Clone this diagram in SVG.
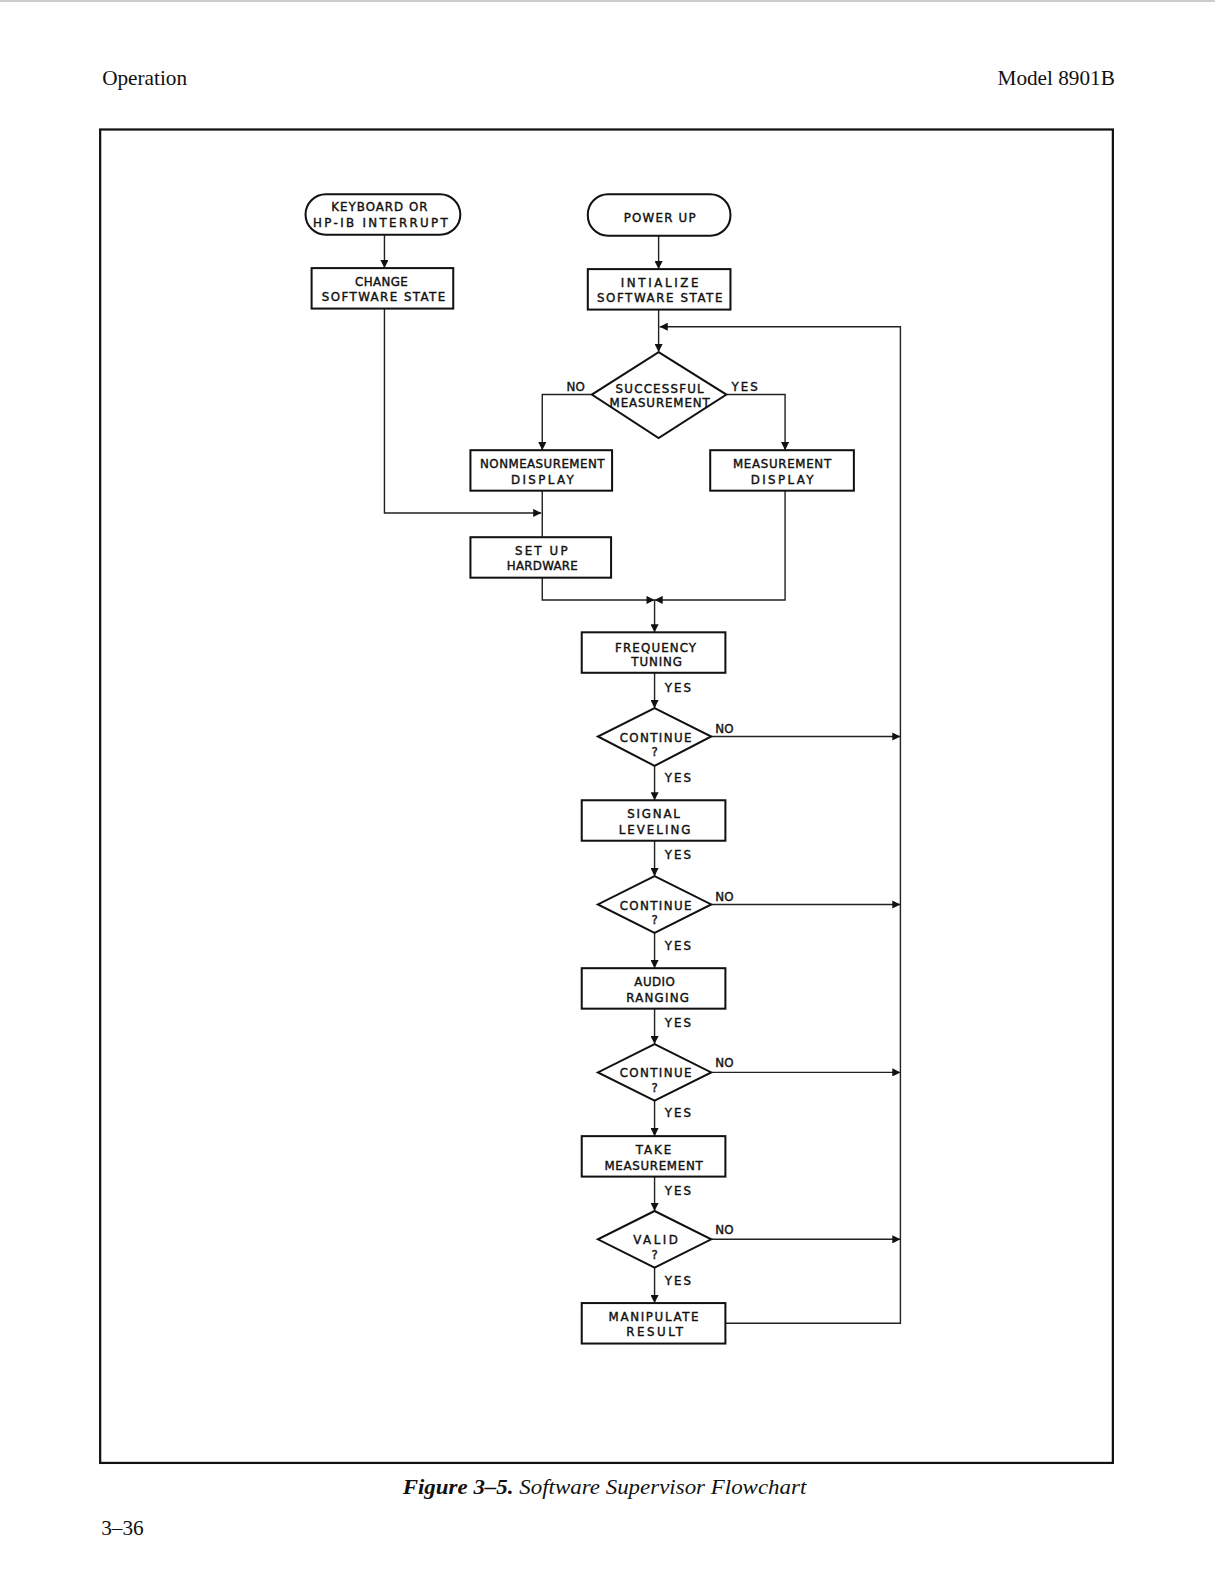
<svg xmlns="http://www.w3.org/2000/svg" width="1215" height="1586" viewBox="0 0 1215 1586">
<style>
.bg{fill:#ffffff}
.frame{fill:none;stroke:#111;stroke-width:2.2}
.box{fill:#fff;stroke:#111;stroke-width:2}
.ln{fill:none;stroke:#222;stroke-width:1.4}
.lbl{font-family:"Liberation Sans Narrow","DejaVu Sans Condensed","Liberation Sans",sans-serif;font-size:13px;font-weight:normal;fill:#111;stroke:#111;stroke-width:0.4;text-anchor:middle}
.hdr{font-family:"Liberation Serif","DejaVu Serif",serif;font-size:21px;fill:#111}
</style>
<defs>
<marker id="ah" viewBox="0 0 10 10" refX="10" refY="5" markerWidth="11" markerHeight="8" orient="auto" markerUnits="userSpaceOnUse"><path d="M0,0 L10,5 L0,10 z" fill="#111"/></marker>
</defs>
<rect class="bg" x="0" y="0" width="1215" height="1586"/>
<line x1="0" y1="1" x2="1215" y2="1" stroke="#bbb" stroke-width="1.5"/>
<g transform="scale(1.0117)">
<text class="hdr" x="101" y="84" font-size="22">Operation</text>
<text class="hdr" x="1102" y="84" text-anchor="end">Model 8901B</text>
<rect class="frame" x="99" y="128" width="1001" height="1318"/>
<text class="hdr" x="398" y="1477" font-size="22.5" textLength="399" lengthAdjust="spacingAndGlyphs"><tspan font-weight="bold" font-style="italic">Figure 3–5.</tspan><tspan font-style="italic"> Software Supervisor Flowchart</tspan></text>
<text class="hdr" x="100" y="1517">3–36</text>

<g id="connectors">
<line class="ln" x1="380" y1="232" x2="380" y2="265" marker-end="url(#ah)"/>
<line class="ln" x1="651" y1="233" x2="651" y2="266" marker-end="url(#ah)"/>
<polyline class="ln" points="380,305 380,507 535,507" marker-end="url(#ah)"/>
<line class="ln" x1="651" y1="306" x2="651" y2="348" marker-end="url(#ah)"/>
<polyline class="ln" points="585,390 536,390 536,445" marker-end="url(#ah)"/>
<polyline class="ln" points="718,390 776,390 776,445" marker-end="url(#ah)"/>
<line class="ln" x1="536" y1="485" x2="536" y2="531"/>
<polyline class="ln" points="536,571 536,593 647,593" marker-end="url(#ah)"/>
<polyline class="ln" points="776,485 776,593 647,593" marker-end="url(#ah)"/>
<line class="ln" x1="647" y1="593" x2="647" y2="625" marker-end="url(#ah)"/>
<line class="ln" x1="647" y1="665" x2="647" y2="700" marker-end="url(#ah)"/>
<line class="ln" x1="647" y1="757" x2="647" y2="791" marker-end="url(#ah)"/>
<line class="ln" x1="647" y1="831" x2="647" y2="866" marker-end="url(#ah)"/>
<line class="ln" x1="647" y1="922" x2="647" y2="957" marker-end="url(#ah)"/>
<line class="ln" x1="647" y1="997" x2="647" y2="1032" marker-end="url(#ah)"/>
<line class="ln" x1="647" y1="1088" x2="647" y2="1123" marker-end="url(#ah)"/>
<line class="ln" x1="647" y1="1163" x2="647" y2="1197" marker-end="url(#ah)"/>
<line class="ln" x1="647" y1="1253" x2="647" y2="1288" marker-end="url(#ah)"/>
<line class="ln" x1="703" y1="728" x2="890" y2="728" marker-end="url(#ah)"/>
<line class="ln" x1="703" y1="894" x2="890" y2="894" marker-end="url(#ah)"/>
<line class="ln" x1="703" y1="1060" x2="890" y2="1060" marker-end="url(#ah)"/>
<line class="ln" x1="703" y1="1225" x2="890" y2="1225" marker-end="url(#ah)"/>
<polyline class="ln" points="717,1308 890,1308 890,323 652,323" marker-end="url(#ah)"/>
<text class="lbl" x="569" y="386">NO</text>
<text class="lbl" x="736" y="386" textLength="26">YES</text>
<text class="lbl" x="670" y="684" textLength="26">YES</text>
<text class="lbl" x="716" y="725">NO</text>
<text class="lbl" x="670" y="773" textLength="26">YES</text>
<text class="lbl" x="670" y="849" textLength="26">YES</text>
<text class="lbl" x="716" y="891">NO</text>
<text class="lbl" x="670" y="939" textLength="26">YES</text>
<text class="lbl" x="670" y="1015" textLength="26">YES</text>
<text class="lbl" x="716" y="1055">NO</text>
<text class="lbl" x="670" y="1104" textLength="26">YES</text>
<text class="lbl" x="670" y="1181" textLength="26">YES</text>
<text class="lbl" x="716" y="1220">NO</text>
<text class="lbl" x="670" y="1270" textLength="26">YES</text>
</g>

<g id="n-keyboard">
<rect class="box" x="302" y="192" width="153" height="40" rx="20"/>
<text class="lbl" x="375" y="209" textLength="95">KEYBOARD OR</text>
<text class="lbl" x="376" y="224" textLength="133">HP-IB INTERRUPT</text>
</g>
<g id="n-powerup">
<rect class="box" x="581" y="192" width="141" height="41" rx="20"/>
<text class="lbl" x="652" y="219" textLength="71">POWER UP</text>
</g>
<g id="n-change">
<rect class="box" x="308" y="265" width="140" height="40"/>
<text class="lbl" x="377" y="283" textLength="52">CHANGE</text>
<text class="lbl" x="379" y="298" textLength="122">SOFTWARE STATE</text>
</g>
<g id="n-init">
<rect class="box" x="581" y="266" width="141" height="40"/>
<text class="lbl" x="652" y="284" textLength="77">INTIALIZE</text>
<text class="lbl" x="652" y="299" textLength="124">SOFTWARE STATE</text>
</g>
<g id="n-success">
<polygon class="box" points="651,348 718,390 651,433 585,390"/>
<text class="lbl" x="652" y="388" textLength="87">SUCCESSFUL</text>
<text class="lbl" x="652" y="402" textLength="99">MEASUREMENT</text>
</g>
<g id="n-nonmeas">
<rect class="box" x="465" y="445" width="140" height="40"/>
<text class="lbl" x="536" y="463" textLength="123">NONMEASUREMENT</text>
<text class="lbl" x="536" y="478" textLength="62">DISPLAY</text>
</g>
<g id="n-measdisp">
<rect class="box" x="702" y="445" width="142" height="40"/>
<text class="lbl" x="773" y="463" textLength="97">MEASUREMENT</text>
<text class="lbl" x="773" y="478" textLength="62">DISPLAY</text>
</g>
<g id="n-setup">
<rect class="box" x="465" y="531" width="139" height="40"/>
<text class="lbl" x="535" y="549" textLength="52">SET UP</text>
<text class="lbl" x="536" y="563" textLength="70">HARDWARE</text>
</g>
<g id="n-freq">
<rect class="box" x="575" y="625" width="142" height="40"/>
<text class="lbl" x="648" y="644" textLength="80">FREQUENCY</text>
<text class="lbl" x="649" y="658" textLength="50">TUNING</text>
</g>
<g id="n-cont1">
<polygon class="box" points="647,700 703,728 647,757 591,728"/>
<text class="lbl" x="648" y="733" textLength="71">CONTINUE</text>
<text class="lbl" x="647" y="747">?</text>
</g>
<g id="n-signal">
<rect class="box" x="575" y="791" width="142" height="40"/>
<text class="lbl" x="646" y="809" textLength="52">SIGNAL</text>
<text class="lbl" x="647" y="824" textLength="71">LEVELING</text>
</g>
<g id="n-cont2">
<polygon class="box" points="647,866 703,894 647,922 591,894"/>
<text class="lbl" x="648" y="899" textLength="71">CONTINUE</text>
<text class="lbl" x="647" y="913">?</text>
</g>
<g id="n-audio">
<rect class="box" x="575" y="957" width="142" height="40"/>
<text class="lbl" x="647" y="975" textLength="40">AUDIO</text>
<text class="lbl" x="650" y="990" textLength="62">RANGING</text>
</g>
<g id="n-cont3">
<polygon class="box" points="647,1032 703,1060 647,1088 591,1060"/>
<text class="lbl" x="648" y="1065" textLength="71">CONTINUE</text>
<text class="lbl" x="647" y="1079">?</text>
</g>
<g id="n-take">
<rect class="box" x="575" y="1123" width="142" height="40"/>
<text class="lbl" x="646" y="1141" textLength="35">TAKE</text>
<text class="lbl" x="646" y="1156" textLength="97">MEASUREMENT</text>
</g>
<g id="n-valid">
<polygon class="box" points="647,1197 703,1225 647,1253 591,1225"/>
<text class="lbl" x="648" y="1230" textLength="44">VALID</text>
<text class="lbl" x="647" y="1244">?</text>
</g>
<g id="n-manip">
<rect class="box" x="575" y="1288" width="142" height="40"/>
<text class="lbl" x="646" y="1306" textLength="89">MANIPULATE</text>
<text class="lbl" x="647" y="1321" textLength="56">RESULT</text>
</g>
</g>
</svg>
